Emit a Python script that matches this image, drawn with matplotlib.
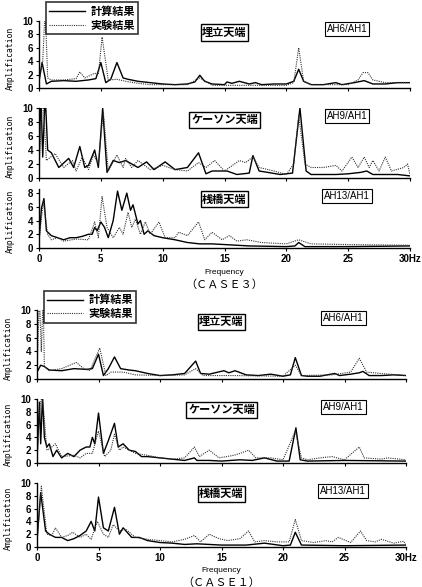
import numpy as np
import matplotlib
matplotlib.use('Agg')
import matplotlib.pyplot as plt

plt.rcParams['font.family'] = ['Liberation Sans', 'Noto Sans CJK JP', 'DejaVu Sans']

# ---- CASE3 ----
# AH6/AH1
c3_ah6_calc_f = [0, 0.25, 0.6, 1, 2, 3, 4, 4.6, 5.0, 5.4, 5.8, 6.3, 6.8, 7.2, 8, 9, 10, 11, 12, 12.6, 13.0, 13.4, 14, 15, 15.2, 15.6, 16.2, 17, 17.5, 18, 19, 20, 20.6, 21.0, 21.4, 22, 23, 24, 24.5, 25.5, 26.3, 27, 28, 29, 30]
c3_ah6_calc_a = [1.0, 3.8, 0.6, 1.0, 1.1, 1.0, 1.2, 1.4, 3.8, 0.8, 1.3, 3.8, 1.5, 1.3, 1.0, 0.8, 0.6, 0.5, 0.6, 0.9, 1.9, 1.0, 0.6, 0.5, 0.9, 0.7, 1.0, 0.6, 0.8, 0.5, 0.6, 0.6, 1.0, 2.8, 1.0, 0.5, 0.5, 0.8, 0.5, 0.8, 1.1, 0.6, 0.6, 0.8, 0.8]
c3_ah6_exp_f = [0, 0.3, 0.5, 0.7, 1, 2, 3, 3.3, 3.7, 4.5, 4.8, 5.1, 5.6, 6.3, 7, 8, 9, 12, 13, 14, 15, 20, 20.6, 21.0, 21.4, 22, 25, 25.8, 26.2, 26.6, 27, 28, 30]
c3_ah6_exp_a = [1.0, 4.0, 12.0, 1.5, 1.2, 1.2, 1.4, 2.4, 1.5, 2.2, 2.0, 7.6, 1.2, 1.3, 1.0, 0.7, 0.5, 0.5, 1.5, 0.4, 0.4, 0.4, 0.8, 6.0, 1.0, 0.5, 0.5, 1.2, 2.3, 2.3, 1.2, 0.8, 0.8]

# AH9/AH1
c3_ah9_calc_f = [0, 0.15, 0.3, 0.5, 0.7, 1.0, 1.6, 2.4, 2.8, 3.3, 3.7, 4.0, 4.5, 4.8, 5.15, 5.5, 6.0, 6.5, 7.0, 7.5, 8.0, 8.7, 9.3, 10.2, 11, 12, 12.9, 13.5, 14, 15.2, 16, 17, 17.3, 17.8, 18.5, 19.5, 20.5, 21.1, 21.6, 22, 24, 25, 26, 26.5, 27, 29, 30]
c3_ah9_calc_a = [2.0, 12.0, 3.0, 12.0, 4.0, 3.6, 1.5, 2.8, 1.5, 4.5, 1.5, 1.8, 4.0, 1.5, 10.0, 0.8, 2.5, 2.2, 2.5, 2.0, 1.5, 2.3, 1.2, 2.3, 1.2, 1.5, 3.6, 0.6, 1.0, 1.0, 0.5, 0.7, 3.2, 1.0, 0.8, 0.5, 0.7, 10.0, 1.0, 0.5, 0.5, 0.6, 0.8, 1.0, 0.5, 0.5, 0.3]
c3_ah9_exp_f = [0, 0.3, 0.6, 1.3, 2.0, 2.7, 3.0, 3.5, 4.0, 4.4, 4.8, 5.2, 5.6, 6.3, 6.8, 7.0, 7.5, 8.0, 9, 10, 11, 12, 12.9, 13.5, 14.2, 15, 16.2, 16.7, 17.3, 17.8, 19, 20, 20.6, 21.0, 21.5, 22, 23, 24, 24.5, 25.3, 25.8, 26.3, 26.7, 27, 27.5, 28, 28.5, 29.5, 29.8, 30]
c3_ah9_exp_a = [1.0, 12.0, 2.5, 3.5, 1.5, 2.5, 1.0, 3.0, 1.2, 3.3, 2.0, 9.5, 1.0, 3.3, 1.5, 2.8, 1.5, 2.5, 1.2, 1.8, 1.2, 1.0, 2.2, 1.5, 2.5, 1.0, 2.5, 2.2, 3.0, 1.5, 1.0, 0.5, 2.0, 9.0, 2.0, 1.5, 1.5, 1.8, 1.0, 3.0, 1.5, 3.0, 1.5, 2.5, 1.0, 3.0, 1.0, 1.5, 2.0, 0.5]

# AH13/AH1
c3_ah13_calc_f = [0, 0.2, 0.4, 0.6, 1.0, 1.5, 2, 2.5, 3, 3.5, 4, 4.3, 4.5, 4.7, 5.0, 5.3, 5.6, 6.0, 6.35, 6.7, 7.1, 7.4, 7.6, 8.0, 8.2, 8.5, 8.8, 9.3, 10, 11, 12, 13, 14, 15, 17, 20, 20.7, 21.0, 21.5, 25, 30]
c3_ah13_calc_a = [1.0, 5.8, 7.2, 2.5, 1.8, 1.5, 1.2, 1.5, 1.5, 1.7, 2.0, 2.0, 3.0, 2.5, 3.8, 3.0, 1.5, 4.0, 8.3, 5.5, 8.0, 5.5, 6.3, 3.5, 4.0, 2.0, 2.5, 1.8, 1.5, 1.2, 0.8, 0.6, 0.6, 0.5, 0.3, 0.2, 0.3, 0.8, 0.2, 0.2, 0.3]
c3_ah13_exp_f = [0, 0.35, 0.7, 1, 1.5, 2, 3, 4, 4.5, 4.8, 5.1, 5.5, 6.0, 6.5, 6.8, 7.2, 7.5, 7.8, 8.2, 8.6, 9.0, 9.7, 10.2, 11, 11.3, 12, 12.9, 13.4, 14, 14.8, 15.4, 16, 16.8, 18, 20, 21, 22, 25, 30]
c3_ah13_exp_a = [1.2, 6.8, 2.0, 1.2, 1.5, 1.0, 1.3, 1.2, 3.8, 1.5, 7.5, 3.0, 1.5, 3.0, 2.0, 5.2, 3.0, 4.2, 2.0, 3.8, 2.0, 3.8, 1.5, 1.5, 2.3, 1.8, 3.8, 1.2, 2.3, 1.2, 1.8, 1.0, 1.2, 0.8, 0.6, 1.2, 0.6, 0.5, 0.4]

# ---- CASE1 ----
# AH6/AH1
c1_ah6_calc_f = [0, 0.3, 0.6, 1, 2, 3, 4, 4.5, 5.0, 5.4, 5.8, 6.3, 6.8, 7.5, 8, 9, 10, 11, 12, 12.9, 13.3, 14, 15.2, 15.6, 16.1, 17, 18, 19, 20, 20.6, 21.0, 21.5, 22, 23, 24.2, 24.6, 25.5, 26.2, 26.5, 27, 28, 29, 30]
c1_ah6_calc_a = [1.0, 2.0, 1.8, 1.3, 1.2, 1.5, 1.4, 1.5, 3.6, 0.5, 1.5, 3.2, 1.5, 1.3, 1.2, 0.8, 0.5, 0.6, 0.8, 2.6, 0.8, 0.7, 1.2, 0.9, 1.2, 0.6, 0.5, 0.7, 0.4, 0.6, 3.1, 0.5, 0.4, 0.4, 0.8, 0.5, 0.7, 0.9, 1.1, 0.5, 0.5, 0.6, 0.5]
c1_ah6_exp_f = [0, 0.2, 0.35, 0.5, 0.6, 1, 2, 3.2, 3.8, 4.3, 5.1, 5.6, 6, 7, 8, 10, 12, 12.9, 13.5, 16, 20, 21.0, 21.5, 24, 25.5, 26.2, 26.8, 28, 30]
c1_ah6_exp_a = [1.0, 12.0, 4.0, 12.0, 1.8, 1.2, 1.5, 2.4, 1.5, 1.2, 4.5, 0.5, 1.0, 1.0, 0.6, 0.5, 0.6, 1.5, 0.5, 0.5, 0.4, 2.0, 0.5, 0.6, 1.0, 3.0, 1.0, 0.8, 0.5]

# AH9/AH1
c1_ah9_calc_f = [0, 0.2, 0.3, 0.45, 0.6, 0.8, 1.0, 1.3, 1.6, 2, 2.5, 3, 3.5, 4, 4.3, 4.5, 4.7, 5.0, 5.4, 5.8, 6.3, 6.6, 7.0, 7.5, 8, 8.5, 9, 10, 11, 12, 12.8, 13, 14, 15, 16.5, 17.5, 18.5, 19.5, 20.5, 21.05, 21.4, 22, 25, 30]
c1_ah9_calc_a = [0.5, 9.5, 3.0, 10.5, 4.0, 2.5, 3.0, 1.0, 2.0, 0.8, 1.5, 1.0, 2.0, 2.5, 2.5, 4.0, 3.0, 7.8, 1.5, 3.5, 6.2, 2.5, 3.0, 2.0, 1.8, 1.0, 1.0, 0.8, 0.6, 0.4, 0.8, 0.4, 0.4, 0.3, 0.5, 0.4, 0.8, 0.3, 0.3, 5.5, 0.5, 0.3, 0.4, 0.3]
c1_ah9_exp_f = [0, 0.25, 0.4, 0.55, 0.8, 1.2, 1.5, 2, 3, 3.5, 4, 4.5, 5.0, 5.5, 6.0, 6.3, 6.7, 7, 8, 9, 10, 11, 12, 12.8, 13.2, 14, 14.8, 16, 16.5, 17.2, 17.8, 19, 20, 21.0, 21.5, 22, 23, 24, 25, 26.2, 26.6, 28, 28.5, 30]
c1_ah9_exp_a = [0.5, 9.0, 10.5, 8.0, 2.0, 2.5, 3.0, 1.0, 1.2, 0.8, 1.5, 1.5, 5.0, 1.0, 2.0, 4.5, 2.0, 2.5, 1.5, 1.2, 0.8, 0.6, 0.8, 2.5, 1.0, 2.0, 0.8, 1.2, 1.5, 2.0, 0.8, 0.8, 0.5, 5.0, 0.8, 0.5, 0.8, 1.0, 0.5, 2.5, 0.8, 0.6, 0.8, 0.5]

# AH13/AH1
c1_ah13_calc_f = [0, 0.3, 0.7, 1, 1.5, 2, 2.5, 3, 3.5, 4, 4.4, 4.7, 5.0, 5.4, 5.8, 6.3, 6.7, 7.0, 7.7, 8.3, 9, 10, 11, 12, 13, 15, 17, 18.5, 20, 20.6, 21.0, 21.5, 25, 30]
c1_ah13_calc_a = [1.0, 8.5, 2.5, 2.0, 1.5, 1.5, 1.0, 1.3, 1.8, 2.5, 4.0, 2.5, 7.8, 3.0, 2.5, 6.2, 2.0, 3.0, 1.5, 1.5, 1.0, 0.7, 0.6, 0.4, 0.5, 0.3, 0.3, 0.6, 0.2, 0.3, 2.3, 0.3, 0.2, 0.3]
c1_ah13_exp_f = [0, 0.35, 0.8, 1.2, 1.5, 2, 2.5, 2.9, 3.5, 4, 4.4, 4.9, 5.4, 5.8, 6.2, 6.7, 7.2, 8, 9, 10, 11, 12, 12.8, 13.3, 14, 14.8, 15.5, 16.5, 17.2, 17.7, 18.5, 19.5, 20.5, 21.0, 21.5, 22.5, 23.5, 24, 24.5, 25.5, 26.3, 26.8, 27.5, 28, 29, 29.8, 30]
c1_ah13_exp_a = [0.8, 9.5, 2.0, 1.8, 3.0, 1.5, 1.8, 2.3, 1.5, 2.0, 1.2, 4.0, 2.0, 1.5, 3.5, 2.5, 2.8, 1.5, 1.2, 1.0, 0.8, 1.2, 1.8, 0.8, 2.0, 1.3, 1.0, 1.3, 2.5, 0.8, 1.0, 0.8, 0.8, 4.3, 1.0, 0.7, 1.0, 0.8, 1.5, 0.7, 2.5, 1.0, 0.8, 1.2, 0.6, 0.9, 0.4]

site_names = ['埋立天端', 'ケーソン天端', '桟橋天端']
ratio_names = ['AH6/AH1', 'AH9/AH1', 'AH13/AH1']
legend_labels = ['計算結果', '実験結果']
x_ticks = [0, 5, 10, 15, 20, 25, 30]
x_ticklabels = ['0', '5', '10', '15', '20', '25', '30Hz']

case3 = [(c3_ah6_calc_f, c3_ah6_calc_a, c3_ah6_exp_f, c3_ah6_exp_a),
         (c3_ah9_calc_f, c3_ah9_calc_a, c3_ah9_exp_f, c3_ah9_exp_a),
         (c3_ah13_calc_f, c3_ah13_calc_a, c3_ah13_exp_f, c3_ah13_exp_a)]
case1 = [(c1_ah6_calc_f, c1_ah6_calc_a, c1_ah6_exp_f, c1_ah6_exp_a),
         (c1_ah9_calc_f, c1_ah9_calc_a, c1_ah9_exp_f, c1_ah9_exp_a),
         (c1_ah13_calc_f, c1_ah13_calc_a, c1_ah13_exp_f, c1_ah13_exp_a)]

W, H = 422, 587
fig = plt.figure(figsize=(W / 100, H / 100), dpi=100)

# pixel boxes (left, right, top, bottom), ylim top
boxes3 = [(39, 410, 21, 88, 10), (39, 410, 108, 178, 10), (39, 410, 189, 248, 8.6)]
boxes1 = [(37, 406, 310, 379, 10), (37, 406, 399, 463, 10), (37, 406, 483, 547, 10)]

mono = 'DejaVu Sans Mono'
cjk = ['Noto Sans CJK JP', 'DejaVu Sans']


def make_panel(box, data, i, last):
    l, r, t, b, ytop = box
    ax = fig.add_axes([l / W, 1 - b / H, (r - l) / W, (b - t) / H])
    cf, ca, ef, ea = data
    ax.plot(cf, ca, color='black', lw=1.0, label=legend_labels[0])
    ax.plot(ef, ea, color='#333333', lw=0.8, ls=(0, (1, 1)), label=legend_labels[1])
    ax.set_xlim(0, 30)
    ax.set_ylim(0, ytop)
    ax.set_yticks([0, 2, 4, 6, 8, 10] if ytop >= 10 else [0, 2, 4, 6, 8])
    ax.set_xticks(x_ticks)
    ax.set_xticklabels(x_ticklabels if last else [])
    for s in ['top', 'right']:
        ax.spines[s].set_visible(False)
    for s in ['left', 'bottom']:
        ax.spines[s].set_linewidth(1.0)
    ax.tick_params(axis='both', direction='out', length=2.5, width=0.8, pad=1.5,
                   labelsize=7)
    for lab in ax.get_xticklabels() + ax.get_yticklabels():
        lab.set_fontweight('bold')
    ax.set_ylabel('Amplification', family=mono, fontsize=5.8)
    ax.yaxis.set_label_coords(-24 / (r - l), 0.45)
    ax.text(0.5, 0.83, site_names[i], transform=ax.transAxes, ha='center', va='center',
            family=cjk, fontsize=8, fontweight='bold',
            bbox=dict(boxstyle='square,pad=0.15', fc='white', ec='black', lw=1.0))
    ax.text(0.83, 0.88, ratio_names[i], transform=ax.transAxes, ha='center', va='center',
            fontsize=7,
            bbox=dict(boxstyle='square,pad=0.2', fc='white', ec='black', lw=0.8))
    return ax


for case, boxes, lab_y, case_label in [(case3, boxes3, 273, '（ＣＡＳＥ３）'),
                                        (case1, boxes1, 571, '（ＣＡＳＥ１）')]:
    axes = [make_panel(boxes[i], case[i], i, i == 2) for i in range(3)]
    leg = axes[0].legend(loc='upper left', bbox_to_anchor=(0.02, 1.28), frameon=True,
                         fancybox=False, edgecolor='black',
                         prop={'family': cjk, 'size': 8, 'weight': 'bold'},
                         handlelength=3.2, handletextpad=0.5, borderpad=0.25,
                         labelspacing=0.05, borderaxespad=0)
    leg.get_frame().set_linewidth(1.2)
    cx = (boxes[0][0] + boxes[0][1]) / 2 / W
    fig.text(cx, 1 - lab_y / H, 'Frequency', ha='center', va='center', fontsize=6)
    fig.text(cx, 1 - (lab_y + 12) / H, case_label, ha='center', va='center',
             family=cjk, fontsize=8)

fig.savefig('out.png', dpi=100)
